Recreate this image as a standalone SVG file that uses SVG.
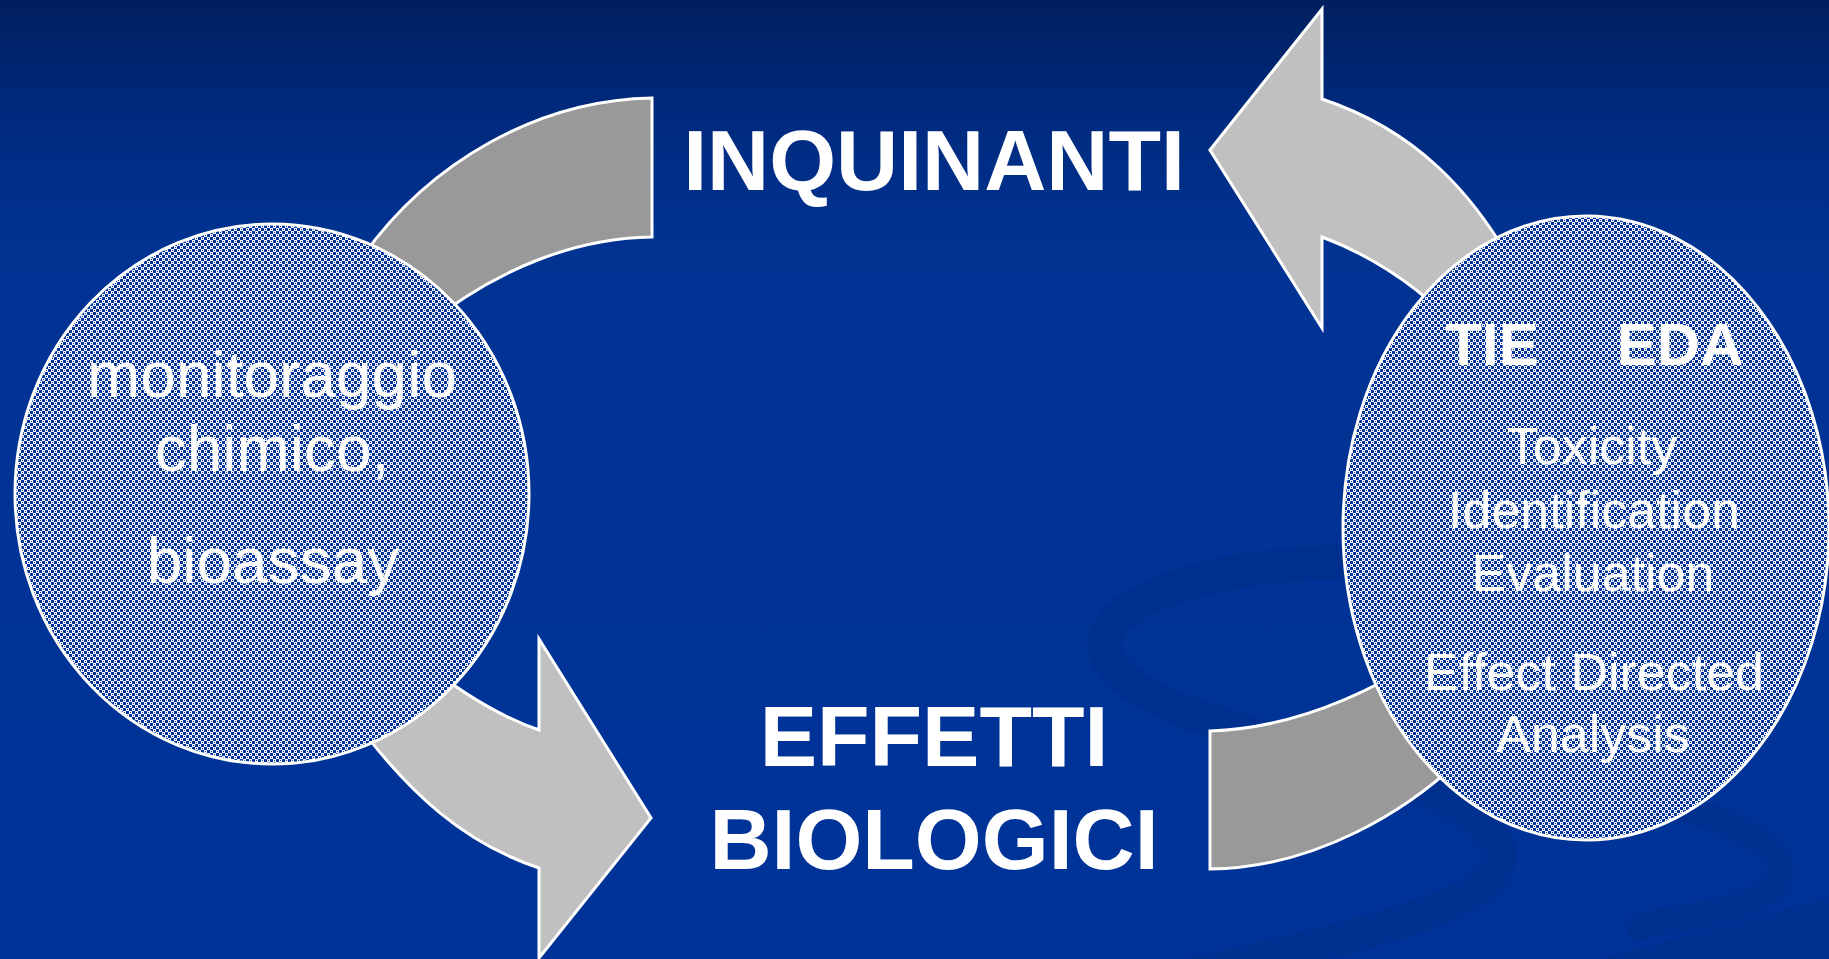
<svg xmlns="http://www.w3.org/2000/svg" width="1829" height="959" viewBox="0 0 1829 959">
  <defs>
    <linearGradient id="bg" x1="0" y1="0" x2="0" y2="959" gradientUnits="userSpaceOnUse">
      <stop offset="0" stop-color="#001f5e"/>
      <stop offset="0.12" stop-color="#002a7e"/>
      <stop offset="0.26" stop-color="#003392"/>
      <stop offset="1" stop-color="#003399"/>
    </linearGradient>
    <!-- checker dither used inside the two ellipses -->
    <pattern id="dots" width="6" height="6" patternUnits="userSpaceOnUse">
      <rect width="6" height="6" fill="#003399"/>
      <rect x="0" y="0" width="3" height="3" fill="#ffffff"/>
      <rect x="3" y="3" width="3" height="3" fill="#ffffff"/>
      <rect x="1" y="1" width="1" height="1" fill="#003399"/>
      <rect x="4" y="4" width="1" height="1" fill="#003399"/>
    </pattern>
  </defs>
  <style>
    .band-dark { fill: #999999; stroke: #ffffff; stroke-width: 3; stroke-linejoin: miter; }
    .band-light { fill: #c0c0c0; stroke: #ffffff; stroke-width: 3; stroke-linejoin: miter; }
    .bubble { fill: url(#dots); stroke: #ffffff; stroke-width: 3; }
    .title { font-family: "Liberation Sans", Arial, sans-serif; font-weight: bold; font-size: 86px; fill: #ffffff; text-anchor: middle; }
    .body-l { font-family: "Liberation Sans", Arial, sans-serif; font-size: 64px; fill: #ffffff; text-anchor: middle; }
    .body-r { font-family: "Liberation Sans", Arial, sans-serif; font-size: 52px; fill: #ffffff; text-anchor: middle; }
    .abbr { font-family: "Liberation Sans", Arial, sans-serif; font-weight: bold; font-size: 60px; fill: #ffffff; text-anchor: middle; }
    .swirl { fill: none; stroke: #002a80; stroke-opacity: 0.35; stroke-linecap: round; }
  </style>

  <!-- background -->
  <rect width="1829" height="959" fill="url(#bg)"/>
  <g id="background-swirls">
    <path class="swirl" stroke-width="34" d="M 1345,562 C 1170,566 1080,618 1110,662 C 1140,705 1215,722 1300,748 C 1420,783 1515,818 1497,868 C 1478,912 1330,942 1180,978"/>
    <path class="swirl" stroke-width="28" d="M 1610,794 C 1735,814 1795,848 1777,882 C 1760,908 1700,916 1640,926"/>
    <path d="M 1600,959 L 1829,897 L 1829,959 Z" fill="#002a80" fill-opacity="0.35"/>
  </g>

  <!-- connectors: curved bands and arrows -->
  <g id="connectors">
    <path id="band-top-left" class="band-dark" d="M 652,98 C 540,100 430,160 360,260 L 420,330 C 500,265 580,238 652,237 Z"/>
    <path id="arrow-top-right" class="band-light" d="M 1210,150 L 1322,9 L 1322,99 C 1400,125 1480,180 1540,320 L 1470,340 C 1420,285 1370,255 1322,237 L 1322,328 Z"/>
    <path id="arrow-bottom-left" class="band-light" d="M 420,660 C 470,700 510,720 539,730 L 539,639 L 651,818 L 539,958 L 539,868 C 470,845 410,800 340,700 Z"/>
    <path id="band-bottom-right" class="band-dark" d="M 1210,731 C 1270,729 1340,710 1420,660 L 1480,740 C 1410,815 1310,868 1210,869 Z"/>
  </g>

  <g id="node-inquinanti">
    <text class="title" x="934" y="190">INQUINANTI</text>
  </g>

  <g id="node-effetti">
    <text class="title" x="934" y="766">EFFETTI</text>
    <text class="title" x="934" y="869">BIOLOGICI</text>
  </g>

  <g id="node-monitoraggio">
    <ellipse class="bubble" cx="272" cy="494" rx="257" ry="270"/>
    <text class="body-l" x="272" y="397">monitoraggio</text>
    <text class="body-l" x="272" y="471">chimico,</text>
    <text class="body-l" x="273" y="583">bioassay</text>
  </g>

  <g id="node-tie-eda">
    <ellipse class="bubble" cx="1586" cy="528" rx="243" ry="312"/>
    <text class="abbr" x="1492" y="365">TIE</text>
    <text class="abbr" x="1680" y="365">EDA</text>
    <text class="body-r" x="1592" y="464">Toxicity</text>
    <text class="body-r" x="1594" y="528">Identification</text>
    <text class="body-r" x="1593" y="591">Evaluation</text>
    <text class="body-r" x="1594" y="690">Effect Directed</text>
    <text class="body-r" x="1593" y="752">Analysis</text>
  </g>
</svg>
